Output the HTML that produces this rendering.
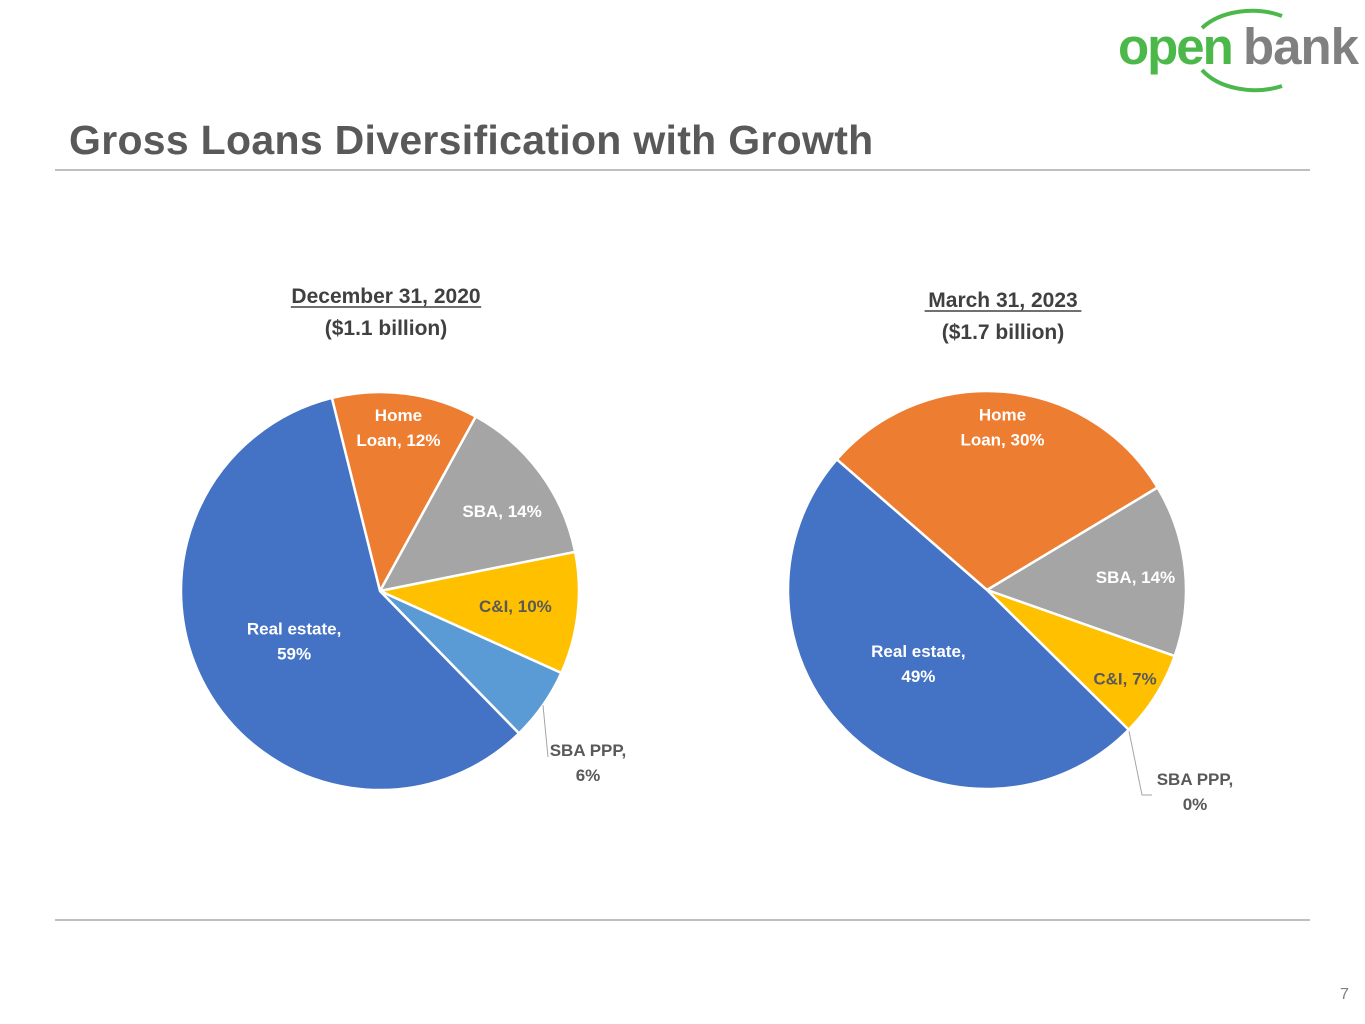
<!DOCTYPE html>
<html><head><meta charset="utf-8">
<style>
body{margin:0;width:1365px;height:1024px;background:#fff;overflow:hidden;position:relative;font-family:"Liberation Sans",sans-serif}
.title{position:absolute;left:69px;top:117px;font-size:41px;font-weight:bold;color:#595959;letter-spacing:0.3px}
.rule{position:absolute;left:55px;width:1255px;height:2px;background:#bfbfbf}
.pg{position:absolute;left:1340px;top:986px;font-size:16px;color:#7f7f7f}
</style></head><body>
<svg style="position:absolute;left:1110px;top:0" width="255" height="100">
<path d="M92 28 A62 42 0 0 1 172 16" stroke="#4cb849" stroke-width="4" fill="none"/>
<path d="M92 70 A62 42 0 0 0 172 86" stroke="#4cb849" stroke-width="4" fill="none"/>
<text x="8" y="64" font-size="51" font-weight="bold" fill="#4cb849" font-family="Liberation Sans,sans-serif" letter-spacing="-2">open</text>
<text x="133" y="64" font-size="51" font-weight="bold" fill="#808080" font-family="Liberation Sans,sans-serif" letter-spacing="-1">bank</text>
</svg>
<div class="title">Gross Loans Diversification with Growth</div>
<div class="rule" style="top:169px"></div>
<div class="rule" style="top:919px"></div>
<div class="pg">7</div>
<svg id="chart" width="1365" height="1024" style="position:absolute;left:0;top:0" font-family="Liberation Sans,sans-serif"></svg>
<script>
const categories=["Real estate","Home Loan","SBA","C&I","SBA PPP"];
const colors=["#4472c4","#ed7d31","#a5a5a5","#ffc000","#5b9bd5"];
const values2020=[59,12,14,10,6];
const values2023=[49,30,14,7,0];
const NS="http://www.w3.org/2000/svg";
const svg=document.getElementById('chart');
function mk(t,a){const e=document.createElementNS(NS,t);for(const k in a)e.setAttribute(k,a[k]);svg.appendChild(e);return e;}
function pt(cx,cy,r,deg){const a=deg*Math.PI/180;return [cx+r*Math.sin(a),cy-r*Math.cos(a)];}
function txt(x,y,lines,fill,name){const t=mk('text',{x:x,y:y,'text-anchor':'middle','font-size':17,'font-weight':'bold',fill:fill});


lines.forEach((l,i)=>{const s=document.createElementNS(NS,'tspan');s.setAttribute('x',x);s.setAttribute('dy',i?25:0);s.textContent=l;t.appendChild(s);});}
function pie(cx,cy,r,vals,start,order,prefix,labelPos){
 const total=vals.reduce((a,b)=>a+b,0);let ang=start;
 order.forEach(i=>{const sweep=vals[i]/total*360;
  if(sweep>0){const p1=pt(cx,cy,r,ang),p2=pt(cx,cy,r,ang+sweep);
  const p=mk('path',{d:`M${cx} ${cy}L${p1[0]} ${p1[1]}A${r} ${r} 0 ${sweep>180?1:0} 1 ${p2[0]} ${p2[1]}Z`,fill:colors[i],stroke:'#fff','stroke-width':2.5});
  
  }
  const mid=ang+sweep/2;const lp=labelPos[i];
  const name=prefix+'-label-'+categories[i].toLowerCase().replace(/[^a-z]+/g,'-');
  let pos;
  if(lp.out){const e=pt(cx,cy,r,mid);mk('polyline',{points:`${e[0]},${e[1]} ${lp.lx},${lp.ly} ${lp.lx2},${lp.ly}`,fill:'none',stroke:'#a5a5a5','stroke-width':1});pos=[lp.x,lp.y];}
  else{pos=pt(cx,cy,r*lp.f,mid);pos=[pos[0]+(lp.dx||0),pos[1]+(lp.dy||0)];}
  const lines=lp.lines.map(s=>s.replace('{v}',vals[i]+'%'));
  txt(pos[0],pos[1],lines,lp.out||i==3?'#595959':'#fff',name);
  ang+=sweep;});
}
pie(380,591,199,values2020,-14,[1,2,3,4,0],'pie-2020',[
 {f:0.5,dx:1,dy:-5,lines:['Real estate,','{v}']},
 {f:0.72,dx:0,dy:-28,lines:['Home','Loan, {v}']},
 {f:0.68,dx:13,dy:6,lines:['SBA, {v}']},
 {f:0.7,dx:-3,dy:5,lines:['C&I, {v}']},
 {out:true,x:588,y:756,lx:548,ly:757,lx2:548,lines:['SBA PPP,','{v}']}]);
pie(987,590,199,values2023,-49,[1,2,3,4,0],'pie-2023',[
 {f:0.5,dx:-1,dy:-6,lines:['Real estate,','{v}']},
 {f:0.72,dx:3,dy:-27,lines:['Home','Loan, {v}']},
 {f:0.75,dx:0,dy:8,lines:['SBA, {v}']},
 {f:0.8,dx:3,dy:10,lines:['C&I, {v}']},
 {out:true,x:1195,y:785,lx:1142,ly:795,lx2:1152,lines:['SBA PPP,','{v}']}]);
[[386,303,'December 31, 2020','($1.1 billion)','title-2020'],[1003,307,'March 31, 2023','($1.7 billion)','title-2023']].forEach(a=>{
 const t=mk('text',{x:a[0],y:a[1],'text-anchor':'middle','font-size':21,'font-weight':'bold',fill:'#404040'});t.textContent=a[2];
 
 const w=a[2].length*11.2;mk('line',{x1:a[0]-w/2,x2:a[0]+w/2,y1:a[1]+4,y2:a[1]+4,stroke:'#404040','stroke-width':1.5});
 const u=mk('text',{x:a[0],y:a[1]+32,'text-anchor':'middle','font-size':21,'font-weight':'bold',fill:'#404040'});u.textContent=a[3];
 
});
</script>
</body></html>
